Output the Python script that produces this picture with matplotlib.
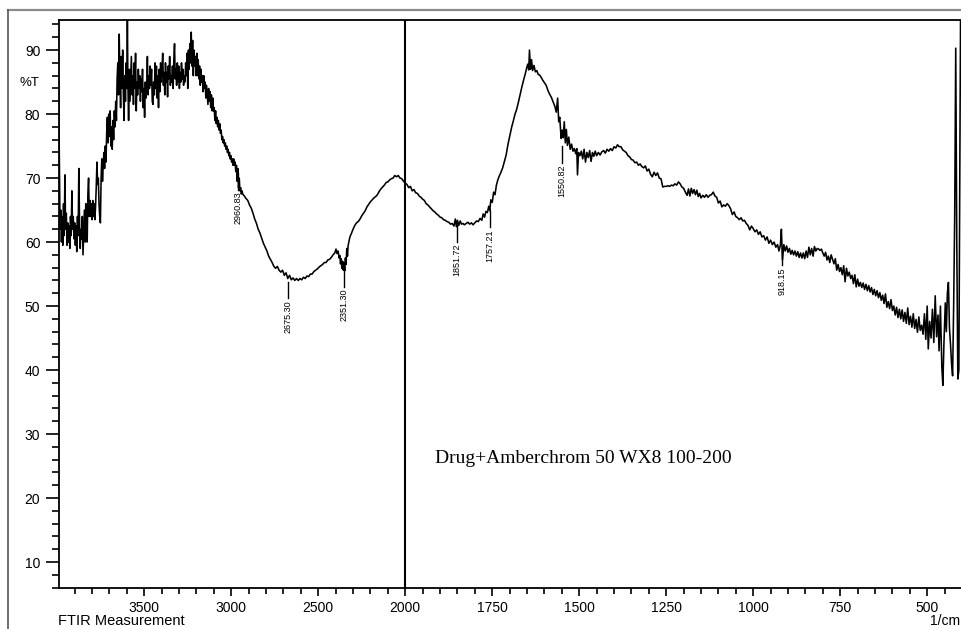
import numpy as np
import matplotlib
matplotlib.use("Agg")
import matplotlib.pyplot as plt
from matplotlib.ticker import FixedLocator, NullFormatter
from matplotlib.lines import Line2D

# ---------------- data ----------------
# Region A: 4000-3200 cm-1 (noisy O-H band)
wn_a = [4000, 3997, 3994, 3991, 3988, 3984, 3980, 3976, 3972, 3968, 3964, 3960, 3956, 3952, 3948, 3944,
        3940, 3936, 3932, 3928, 3924, 3920, 3916, 3912, 3908, 3904, 3900, 3896, 3892, 3888, 3884, 3880,
        3876, 3872, 3868, 3864, 3860, 3856, 3852, 3848, 3844, 3840, 3836, 3832, 3828, 3824, 3820, 3816,
        3812, 3808, 3804, 3800, 3796, 3792, 3788, 3784, 3780, 3776, 3772, 3768, 3764, 3760, 3756, 3752,
        3748, 3744, 3740, 3736, 3732, 3728, 3724, 3720, 3716, 3712, 3708, 3704, 3700, 3696, 3692, 3688,
        3684, 3680, 3676, 3672, 3668, 3664, 3660, 3656, 3652, 3648, 3644, 3640, 3636, 3632, 3628, 3624,
        3620, 3616, 3612, 3608, 3604, 3600, 3597, 3594, 3590, 3586, 3582, 3578, 3574, 3570, 3566, 3562,
        3558, 3554, 3550, 3546, 3542, 3538, 3534, 3530, 3526, 3522, 3518, 3514, 3510, 3506, 3502, 3498,
        3494, 3490, 3486, 3482, 3478, 3474, 3470, 3466, 3462, 3458, 3454, 3450, 3446, 3442, 3438, 3434,
        3430, 3426, 3422, 3418, 3414, 3410, 3406, 3402, 3398, 3394, 3390, 3386, 3382, 3378, 3374, 3370,
        3366, 3362, 3358, 3354, 3350, 3346, 3342, 3338, 3334, 3330, 3326, 3322, 3318, 3314, 3310, 3306,
        3302, 3298, 3294, 3290, 3286, 3282, 3278, 3274, 3270, 3266, 3262, 3258, 3254, 3250, 3246, 3242,
        3238, 3234, 3230, 3226, 3222, 3218, 3214, 3210, 3206, 3202]
t_a = [93.5, 88.5, 92.0, 80.0, 73.0, 62.0, 65.0, 60.0, 64.0, 59.5, 66.0, 61.0, 70.5, 62.0, 64.5, 59.5,
       63.0, 60.0, 62.5, 59.0, 64.0, 61.0, 68.0, 62.0, 64.0, 60.5, 63.0, 59.5, 62.5, 58.5, 64.0, 61.0,
       71.5, 63.0, 59.0, 62.0, 60.5, 64.0, 58.0, 61.5, 65.0, 60.0, 66.0, 61.5, 60.0, 67.5, 70.0, 64.0,
       66.5, 64.0, 66.0, 63.5, 66.5, 64.0, 66.0, 63.5, 65.5, 68.5, 72.5, 69.0, 70.0, 66.0, 64.0, 63.0,
       70.0, 73.0, 69.5, 72.0, 74.0, 71.5, 75.0, 72.5, 77.0, 79.5, 75.5, 80.0, 76.5, 80.5, 75.0, 78.0,
       74.5, 79.0, 76.0, 80.5, 78.0, 82.0, 79.0, 85.5, 88.0, 83.0, 92.5, 86.0, 81.0, 89.0, 84.0, 90.0,
       83.0, 79.0, 86.0, 82.0, 88.0, 84.0, 95.5, 85.0, 79.0, 87.0, 82.0, 85.5, 89.0, 83.0, 86.0, 81.5,
       88.0, 84.0, 89.5, 80.5, 85.0, 83.0, 87.0, 84.0, 86.0, 82.0, 85.5, 83.5, 87.0, 81.0, 84.0, 79.5,
       85.0, 82.5, 84.0, 89.0, 83.0, 86.0, 84.0, 87.5, 84.5, 87.0, 82.0, 81.5, 85.0, 83.0, 88.0, 84.0,
       87.5, 82.5, 86.0, 81.0, 87.0, 83.5, 88.0, 85.0, 87.0, 89.5, 84.5, 86.5, 83.0, 88.0, 85.0, 86.5,
       82.7, 87.5, 85.5, 89.0, 84.5, 86.0, 85.0, 87.5, 84.0, 88.5, 91.0, 85.5, 87.0, 84.5, 88.0, 85.0,
       87.5, 84.0, 86.5, 85.0, 88.0, 85.5, 87.0, 84.5, 86.0, 85.0, 88.0, 86.0, 89.5, 84.0, 90.0, 87.0,
       91.0, 88.0, 92.8, 87.5, 91.5, 86.0, 90.0, 87.5, 89.0, 86.0]

# Region B: 3200-2000 cm-1
wn_b = [3198, 3194, 3190, 3186, 3182, 3178, 3174, 3170, 3166, 3162, 3158, 3154, 3150, 3146, 3142, 3138,
        3134, 3130, 3126, 3122, 3118, 3114, 3110, 3106, 3102, 3098, 3094, 3090, 3086, 3082, 3078, 3074,
        3070, 3066, 3062, 3058, 3054, 3050, 3046, 3042, 3038, 3034, 3030, 3026, 3022, 3018, 3014, 3010,
        3006, 3002, 2998, 2994, 2990, 2986, 2982, 2978, 2974, 2970, 2966, 2962, 2958, 2954, 2950, 2946,
        2942, 2938, 2934, 2925, 2915, 2905, 2895, 2885, 2875, 2865, 2855, 2845, 2835, 2825, 2815, 2805,
        2795, 2785, 2775, 2765, 2755, 2745, 2735, 2725, 2715, 2705, 2695, 2685, 2675, 2665, 2655, 2645,
        2635, 2625, 2615, 2605, 2595, 2585, 2575, 2565, 2555, 2545, 2535, 2525, 2515, 2505, 2495, 2485,
        2475, 2465, 2455, 2445, 2435, 2425, 2415, 2405, 2398, 2392, 2386, 2380, 2376, 2372, 2368, 2364,
        2360, 2356, 2352, 2348, 2344, 2340, 2336, 2332, 2328, 2324, 2318, 2310, 2300, 2290, 2280, 2270,
        2260, 2250, 2240, 2230, 2220, 2210, 2200, 2190, 2180, 2170, 2160, 2150, 2140, 2130, 2120, 2110,
        2100, 2090, 2080, 2070, 2060, 2050, 2040, 2030, 2020, 2010, 2000]
t_b = [89.5, 86.0, 88.5, 85.5, 87.5, 84.5, 87.0, 85.0, 86.0, 83.5, 86.0, 84.0, 85.0, 82.5, 84.5, 83.0,
       81.5, 84.0, 82.0, 83.5, 81.0, 83.0, 80.5, 82.5, 80.5, 81.0, 79.0, 80.5, 78.5, 79.5, 78.0, 79.0,
       77.5, 78.5, 77.0, 77.5, 76.0, 76.5, 75.5, 76.0, 75.0, 75.5, 74.5, 75.0, 74.0, 74.5, 73.5, 74.0,
       73.0, 73.5, 72.5, 73.0, 72.0, 73.0, 72.0, 72.5, 71.0, 72.0, 69.5, 71.5, 68.5, 70.0, 68.0, 68.5,
       67.5, 68.0, 67.5, 67.2, 66.8, 66.5, 65.8, 65.3, 64.5, 63.6, 62.9, 62.0, 61.4, 60.6, 59.8, 59.2,
       58.6, 57.8, 57.3, 56.8, 56.2, 55.9, 56.2, 55.6, 55.3, 55.6, 54.8, 55.2, 54.3, 54.8, 54.1, 54.4,
       54.0, 54.3, 54.0, 54.3, 54.1, 54.5, 54.3, 54.7, 54.6, 55.0, 55.0, 55.4, 55.6, 55.8, 56.1, 56.3,
       56.5, 56.8, 56.8, 57.2, 57.3, 57.6, 58.0, 58.3, 58.9, 58.2, 58.6, 57.5, 57.9, 56.6, 57.4, 55.9,
       57.0, 55.6, 56.8, 55.5, 57.5, 56.5, 59.0, 57.8, 59.5, 60.0, 60.8, 61.3, 62.0, 62.6, 63.0, 63.2,
       63.6, 64.1, 64.5, 64.9, 65.5, 65.9, 66.3, 66.6, 66.9, 67.1, 67.4, 67.9, 68.3, 68.6, 68.9, 69.3,
       69.4, 69.7, 69.9, 70.0, 70.4, 70.2, 70.4, 70.0, 69.9, 69.5, 69.2]

# Region C: 2000-1500 cm-1
wn_c = [1995, 1990, 1985, 1980, 1975, 1970, 1965, 1960, 1955, 1950, 1945, 1940, 1935, 1930, 1925, 1920,
        1915, 1910, 1905, 1900, 1895, 1890, 1885, 1880, 1875, 1870, 1865, 1860, 1856, 1853, 1850, 1846,
        1842, 1838, 1834, 1830, 1825, 1820, 1815, 1810, 1805, 1800, 1795, 1790, 1785, 1780, 1776, 1772,
        1768, 1764, 1760, 1757, 1754, 1750, 1746, 1742, 1738, 1734, 1730, 1725, 1720, 1715, 1710, 1705,
        1700, 1697, 1694, 1690, 1685, 1680, 1675, 1670, 1665, 1660, 1655, 1651, 1648, 1645, 1643, 1640,
        1637, 1634, 1630, 1626, 1622, 1618, 1614, 1610, 1605, 1600, 1595, 1590, 1585, 1580, 1575, 1570,
        1566, 1562, 1559, 1556, 1552, 1549, 1546, 1543, 1540, 1537, 1534, 1530, 1526, 1522, 1518, 1514,
        1510, 1507, 1505, 1502, 1498, 1494]
t_c = [69.0, 68.5, 68.7, 68.0, 68.2, 67.7, 67.6, 67.2, 67.0, 66.7, 66.5, 66.0, 65.8, 65.5, 65.2, 64.9,
       64.7, 64.4, 64.2, 63.9, 63.8, 63.5, 63.4, 63.2, 63.1, 62.8, 62.9, 62.5, 63.6, 62.4, 63.4, 62.6,
       63.3, 62.8, 62.9, 62.7, 62.9, 63.1, 62.8, 63.0, 62.7, 63.0, 63.3, 63.2, 63.7, 63.4, 64.4, 63.9,
       64.8, 64.6, 65.6, 64.9, 66.6, 66.2, 67.8, 67.4, 68.9, 69.7, 70.3, 70.9, 71.6, 72.6, 73.6, 75.2,
       76.5, 77.3, 78.0, 78.8, 79.9, 80.7, 81.8, 83.0, 84.2, 85.3, 86.3, 87.2, 87.8, 86.9, 90.0, 87.0,
       88.5, 86.8, 87.6, 86.6, 86.8, 86.2, 86.1, 85.8, 85.3, 84.9, 84.5, 83.7, 83.1, 82.6, 81.9, 81.2,
       80.3, 82.5, 78.8, 79.5, 76.2, 77.5, 76.3, 78.8, 75.5, 77.6, 75.1, 76.4, 74.5, 75.3, 74.2, 74.6,
       73.8, 74.6, 70.5, 74.0, 73.5, 74.2]

# Region D: 1500-400 cm-1
wn_d = [1490, 1486, 1482, 1478, 1474, 1470, 1466, 1462, 1458, 1454, 1450, 1445, 1440, 1435, 1430, 1425,
        1420, 1415, 1410, 1405, 1400, 1395, 1390, 1385, 1380, 1375, 1370, 1365, 1360, 1355, 1350, 1345,
        1340, 1335, 1330, 1325, 1320, 1315, 1310, 1305, 1300, 1295, 1290, 1285, 1280, 1275, 1270, 1265,
        1260, 1255, 1250, 1245, 1240, 1235, 1230, 1225, 1220, 1215, 1210, 1205, 1200, 1195, 1190, 1186,
        1182, 1178, 1174, 1170, 1166, 1162, 1158, 1154, 1150, 1145, 1140, 1135, 1130, 1125, 1120, 1115,
        1110, 1105, 1100, 1095, 1090, 1085, 1080, 1075, 1070, 1065, 1060, 1055, 1050, 1045, 1040, 1035,
        1030, 1025, 1020, 1015, 1010, 1005, 1000, 995, 990, 985, 980, 975, 970, 965, 960, 955,
        950, 945, 940, 935, 930, 926, 922, 919, 916, 912, 908, 904, 900, 896, 892, 888,
        884, 880, 876, 872, 868, 864, 860, 856, 852, 848, 844, 840, 836, 832, 828, 824,
        820, 816, 812, 808, 804, 800, 796, 792, 788, 784, 780, 776, 772, 768, 764, 760,
        756, 752, 748, 744, 740, 736, 732, 728, 724, 720, 716, 712, 708, 704, 700, 696,
        692, 688, 684, 680, 676, 672, 668, 664, 660, 656, 652, 648, 644, 640, 636, 632,
        628, 624, 620, 616, 612, 608, 604, 600, 596, 592, 588, 584, 580, 576, 572, 568,
        564, 560, 556, 552, 548, 544, 540, 536, 532, 528, 524, 520, 516, 512, 508, 504,
        500, 497, 493, 489, 485, 481, 477, 473, 469, 466, 462, 458, 455, 452, 448, 445,
        442, 439, 436, 433, 430, 427, 424, 421, 418, 415, 412, 409, 404]
t_d = [73.0, 74.5, 72.5, 74.0, 73.2, 74.3, 72.6, 74.0, 73.4, 74.2, 73.5, 74.0, 73.6, 74.1, 74.3, 73.9,
       74.5, 74.2, 74.6, 74.3, 74.9, 74.7, 75.2, 74.9, 74.9, 74.4, 74.2, 74.0, 73.5, 73.3, 72.9, 72.8,
       72.4, 72.5, 72.0, 72.2, 71.8, 71.6, 71.9, 71.1, 71.4, 70.6, 70.2, 70.9, 70.4, 70.8, 70.0, 69.9,
       68.6, 68.7, 68.7, 68.8, 68.7, 68.9, 68.8, 69.1, 68.9, 69.4, 69.1, 68.6, 68.4, 67.8, 67.3, 68.3,
       67.2, 68.4, 67.6, 68.2, 67.4, 68.1, 67.1, 67.6, 66.9, 67.3, 67.0, 67.4, 67.0, 67.3, 67.4, 67.8,
       67.2, 67.0, 66.1, 66.4, 65.5, 65.8, 65.6, 66.0, 65.7, 65.2, 64.3, 64.7, 64.0, 63.8, 63.5, 63.8,
       63.3, 63.4, 62.9, 62.6, 61.9, 62.5, 62.1, 61.6, 61.9, 61.2, 61.6, 60.8, 61.0, 60.3, 60.8, 59.8,
       60.3, 59.6, 60.0, 59.2, 59.6, 58.6, 59.5, 62.0, 57.2, 59.6, 58.6, 59.4, 58.4, 59.0, 58.1, 58.7,
       58.0, 58.6, 57.8, 58.5, 57.6, 58.3, 57.5, 58.3, 57.4, 58.6, 57.6, 59.2, 58.0, 59.0, 57.8, 59.3,
       58.6, 59.0, 58.9, 58.7, 58.9, 58.3, 57.8, 58.4, 57.2, 57.8, 56.8, 58.0, 57.3, 56.6, 57.4, 55.6,
       56.5, 55.4, 56.0, 54.9, 56.3, 53.8, 55.9, 54.7, 55.3, 54.3, 54.8, 53.5, 54.9, 53.0, 54.2, 53.1,
       53.7, 52.9, 53.6, 52.6, 53.4, 52.4, 53.2, 52.2, 52.9, 51.8, 52.6, 51.6, 52.4, 51.3, 52.1, 50.9,
       51.7, 50.4, 51.9, 49.8, 50.7, 49.6, 51.0, 49.3, 50.0, 48.6, 49.8, 48.2, 49.5, 48.0, 49.4, 47.6,
       49.0, 47.3, 49.7, 47.1, 48.4, 46.7, 48.8, 46.5, 47.9, 45.9, 48.3, 46.2, 47.0, 45.6, 48.8, 44.8,
       50.0, 43.3, 47.6, 45.0, 49.5, 44.3, 51.6, 45.2, 48.6, 43.0, 50.0, 40.5, 37.6, 44.0, 50.5, 46.0,
       52.0, 53.7, 46.5, 44.0, 41.0, 39.1, 50.0, 64.0, 90.3, 60.0, 38.6, 40.0, 97.0]

# Peak annotations
peak_wn = [2960.83, 2675.30, 2351.30, 1851.72, 1757.21, 1550.82, 918.15]
peak_labels = ["2960.83", "2675.30", "2351.30", "1851.72", "1757.21", "1550.82", "918.15"]
peak_top = [70.8, 53.8, 55.6, 62.6, 64.9, 75.0, 59.0]

x_major = [3500, 3000, 2500, 2000, 1750, 1500, 1250, 1000, 750, 500]
x_minor = [3900, 3800, 3700, 3600, 3400, 3300, 3200, 3100, 2900, 2800, 2700, 2600, 2400, 2300, 2200, 2100,
           1950, 1900, 1850, 1800, 1700, 1650, 1600, 1550, 1450, 1400, 1350, 1300, 1200, 1150, 1100, 1050,
           950, 900, 850, 800, 700, 650, 600, 550, 450]
y_major = [10, 20, 30, 40, 50, 60, 70, 80, 90]
y_minor = [6, 8, 12, 14, 16, 18, 22, 24, 26, 28, 32, 34, 36, 38, 42, 44, 46, 48, 52, 54, 56, 58,
           62, 64, 66, 68, 72, 74, 76, 78, 82, 84, 86, 88, 92, 94]

sample_label = "Drug+Amberchrom 50 WX8 100-200"

# ---------------- plotting ----------------
wn = np.array(wn_a + wn_b + wn_c + wn_d, dtype=float)
tr = np.array(t_a + t_b + t_c + t_d, dtype=float)


def fwd(w):
    w = np.asarray(w, dtype=float)
    return np.where(w >= 2000, 3200 + (w - 2000), 2 * (w - 400))


def inv(u):
    u = np.asarray(u, dtype=float)
    return np.where(u >= 3200, 2000 + (u - 3200), 400 + u / 2)


plt.rcParams['font.family'] = ['Liberation Sans', 'DejaVu Sans']

fig = plt.figure(figsize=(9.61, 6.29), dpi=100)
ax = fig.add_axes([59 / 961, 41 / 629, 903 / 961, 568 / 629])
ax.set_xscale('function', functions=(fwd, inv))
ax.set_xlim(3990, 400)
ax.set_ylim(5.94, 94.7)

ax.plot(wn, tr, color='black', lw=1.15)
ax.axvline(2000, color='black', lw=1.5)

for w, lab, top in zip(peak_wn, peak_labels, peak_top):
    ax.plot([w, w], [top, top - 2.6], color='black', lw=1.0)
    ax.text(w, top - 2.9, lab, rotation=90, ha='center', va='top', fontsize=6.5)

ax.text(1915, 26.2, sample_label, family=['Liberation Serif', 'DejaVu Serif'], fontsize=14,
        ha='left', va='center')

ax.xaxis.set_major_locator(FixedLocator(x_major))
ax.xaxis.set_minor_locator(FixedLocator(x_minor))
ax.xaxis.set_minor_formatter(NullFormatter())
ax.yaxis.set_major_locator(FixedLocator(y_major))
ax.yaxis.set_minor_locator(FixedLocator(y_minor))
ax.set_xticklabels([str(v) for v in x_major])
ax.set_yticklabels([str(v) for v in y_major])

ax.tick_params(axis='y', which='major', direction='out', length=9.5, width=1.2, pad=4, labelsize=10)
ax.tick_params(axis='y', which='minor', direction='out', length=5, width=1.2)
ax.tick_params(axis='x', which='major', direction='out', length=6, width=1.2, pad=3, labelsize=10)
ax.tick_params(axis='x', which='minor', direction='out', length=4, width=1.2)
for s in ax.spines.values():
    s.set_linewidth(1.3)
    s.set_color('black')

fig.text(29 / 961, 1 - 83 / 629, '%T', ha='center', va='center', fontsize=9.5)
fig.text(58 / 961, 1 - 621 / 629, 'FTIR Measurement', ha='left', va='center', fontsize=10.5)
fig.text(960 / 961, 1 - 621 / 629, '1/cm', ha='right', va='center', fontsize=10)

# outer frame of the original screenshot
fig.add_artist(Line2D([8 / 961, 1.0], [1 - 10 / 629, 1 - 10 / 629], transform=fig.transFigure,
                      color='#8a8a8a', lw=1.6))
fig.add_artist(Line2D([8 / 961, 8 / 961], [0.0, 1 - 10 / 629], transform=fig.transFigure,
                      color='#555555', lw=1.2))

fig.savefig('out.png', dpi=100)
